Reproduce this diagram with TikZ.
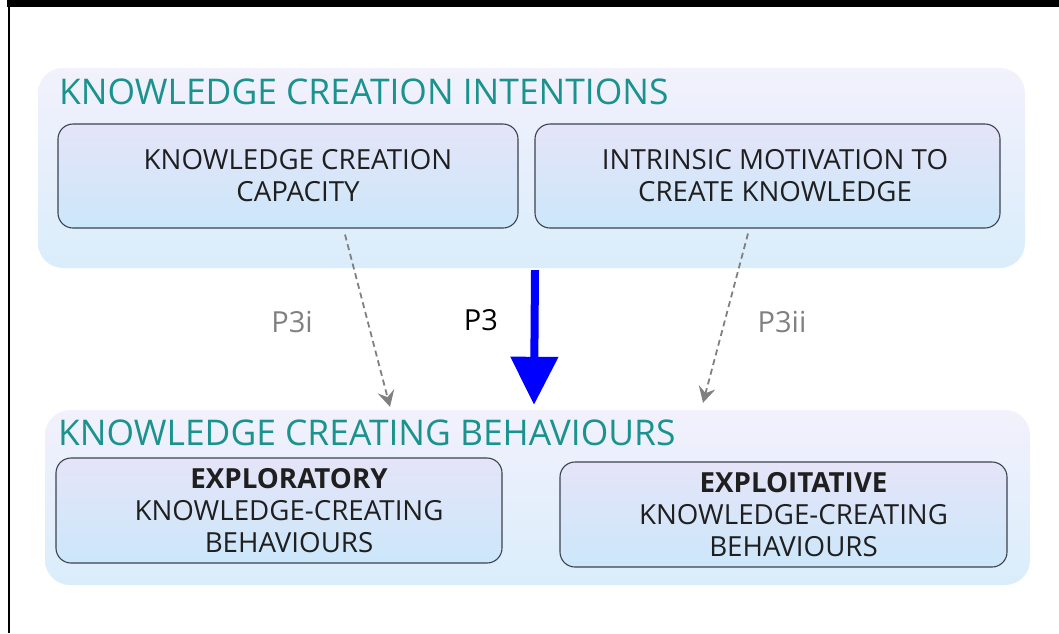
\documentclass[tikz,border=0pt]{standalone}
\usepackage{fontspec}
\setmainfont{Open Sans}
\usetikzlibrary{arrows.meta}
\definecolor{teal}{RGB}{26, 146, 142}
\definecolor{paneltop}{RGB}{242, 241, 252}
\definecolor{panelbot}{RGB}{218, 237, 251}
\definecolor{boxtop}{RGB}{229, 228, 248}
\definecolor{boxbot}{RGB}{204, 231, 250}
\definecolor{edge}{RGB}{60, 66, 78}
\definecolor{relgray}{RGB}{128, 128, 128}

\tikzset{
  panel/.style={rounded corners=25pt, top color=paneltop, bottom color=panelbot, draw=none},
  box/.style={rounded corners=15pt, top color=boxtop, bottom color=boxbot, draw=edge,
    line width=1.1pt, align=center, text=black!88, font=\fontsize{27.7}{32}\selectfont},
  heading/.style={text=teal, inner sep=0pt, font=\fontsize{35.4}{40}\selectfont},
  rel/.style={draw=relgray, line width=1.8pt, dash pattern=on 6pt off 4pt,
    -{Stealth[length=16pt, width=17pt, inset=6pt, fill=relgray]}},
  plabel/.style={font=\fontsize{29}{34}\selectfont}
}

\begin{document}
\begin{tikzpicture}[x=1pt, y=-1pt]
\useasboundingbox (0, 0) rectangle (1059, 633);
\fill (7, 0) rectangle (1059, 7);
\fill (8, 7) rectangle (10, 633);
% intentions
\node [panel, minimum width=987pt, minimum height=200pt] (intent) at (531.5, 168) {};
\node [heading, anchor=west] (intenthead) at (59, 92) {KNOWLEDGE CREATION INTENTIONS};
\node [box, minimum width=460pt, minimum height=104pt] (cap) at (288, 176)
  {\hspace{20pt}KNOWLEDGE CREATION\\\hspace{20pt}CAPACITY};
\node [box, minimum width=465pt, minimum height=104pt] (motiv) at (767.5, 176)
  {\hspace{15pt}INTRINSIC MOTIVATION TO\\\hspace{15pt}CREATE KNOWLEDGE};
% behaviours
\node [panel, minimum width=985pt, minimum height=175pt] (behav) at (537.5, 497.5) {};
\node [heading, anchor=west] (behavhead) at (58, 433) {KNOWLEDGE CREATING BEHAVIOURS};
\node [box, minimum width=446pt, minimum height=105pt] (explor) at (279, 510.5)
  {\hspace{20pt}\textbf{EXPLORATORY}\\\hspace{20pt}KNOWLEDGE-CREATING\\\hspace{20pt}BEHAVIOURS};
\node [box, minimum width=447pt, minimum height=105pt] (exploit) at (783.5, 514.5)
  {\hspace{20pt}\textbf{EXPLOITATIVE}\\\hspace{20pt}KNOWLEDGE-CREATING\\\hspace{20pt}BEHAVIOURS};
% propositions
\draw [rel] ([xshift=57pt, yshift=-6pt]cap.south) -- ([xshift=-147.5pt, yshift=3pt]behav.north);
\draw [rel] ([xshift=-19.5pt, yshift=-5pt]motiv.south) -- ([xshift=165.5pt, yshift=7pt]behav.north);
\draw [blue, line width=8pt, -{Triangle[length=48pt, width=46pt]}]
  ([xshift=3.5pt, yshift=-2pt]intent.south) -- ([xshift=-3.5pt, yshift=5pt]behav.north);
\node [plabel, text=relgray] (p3i) at (292, 322) {P3i};
\node [plabel] (p3) at (481, 320) {P3};
\node [plabel, text=relgray] (p3ii) at (782, 322) {P3ii};
\end{tikzpicture}
\end{document}
